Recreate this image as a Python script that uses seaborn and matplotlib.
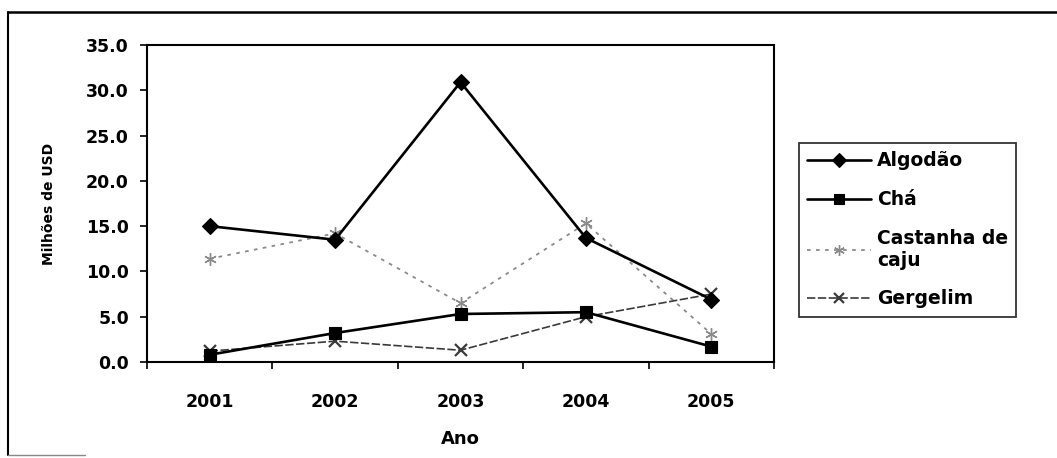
import numpy as np
import pandas as pd
import seaborn as sns
import matplotlib.pyplot as plt
from matplotlib.lines import Line2D

# data (milhoes de USD)
anos = ['2001', '2002', '2003', '2004', '2005']
algodao = [15.0, 13.5, 30.9, 13.7, 6.9]
cha = [0.8, 3.2, 5.3, 5.5, 1.7]
castanha = [11.4, 14.2, 6.5, 15.3, 3.1]
gergelim = [1.2, 2.3, 1.3, 5.0, 7.5]

series_names = ['Algodão', 'Chá', 'Castanha de\ncaju', 'Gergelim']
series_values = [algodao, cha, castanha, gergelim]

sns.set_theme(style='white')
plt.rcParams['font.family'] = ['DejaVu Sans']
plt.rcParams['font.weight'] = 'bold'
plt.rcParams['text.color'] = 'black'
plt.rcParams['axes.labelcolor'] = 'black'
plt.rcParams['xtick.color'] = 'black'
plt.rcParams['ytick.color'] = 'black'

fig = plt.figure(figsize=(10.57, 4.58), dpi=100)
ax = fig.add_axes([147 / 1057, 1 - 362 / 458, (774 - 147) / 1057, (362 - 45) / 458])

styles = [
    dict(color='black', marker='D', markersize=8.5, linewidth=1.9, linestyle='-'),
    dict(color='black', marker='s', markersize=8, linewidth=1.9, linestyle='-'),
    dict(color='#8a8a8a', marker=(6, 2, 0), markersize=9, markeredgewidth=1.0,
         linewidth=1.3, linestyle=(0, (2, 3))),
    dict(color='#3a3a3a', marker='x', markersize=8, markeredgewidth=1.6,
         linewidth=1.2, linestyle=(0, (5, 1.5))),
]

x = np.arange(len(anos))
order = [2, 3, 1, 0]
for i in order:
    df = pd.DataFrame({'x': x, 'y': series_values[i]})
    st = styles[i]
    sns.lineplot(data=df, x='x', y='y', ax=ax, color=st['color'],
                 linewidth=st['linewidth'], linestyle=st['linestyle'],
                 marker=st['marker'], markersize=st['markersize'],
                 markeredgewidth=st.get('markeredgewidth', 0.8),
                 markeredgecolor=st['color'], markerfacecolor=st['color'])

ax.set_xlim(-0.5, len(anos) - 0.5)
ax.set_ylim(0, 35)
ax.set_yticks(np.arange(0, 35.1, 5))
ax.set_yticklabels([f'{v:.1f}' for v in np.arange(0, 35.1, 5)], fontsize=12.5, fontweight='bold')
ax.set_xticks(np.arange(-0.5, len(anos), 1))
ax.set_xticklabels([])
ax.set_xticks(x, minor=True)
ax.set_xticklabels(anos, minor=True, fontsize=12.5, fontweight='bold')
ax.tick_params(axis='x', which='major', direction='out', length=5, width=1.2, color='black', bottom=True)
ax.tick_params(axis='x', which='minor', length=0, pad=22)
ax.tick_params(axis='y', direction='out', length=5, width=1.2, color='black', left=True, pad=8)
for s in ax.spines.values():
    s.set_color('black')
    s.set_linewidth(1.5)
ax.grid(False)

ax.set_xlabel('Ano', fontsize=13, fontweight='bold', labelpad=14)
ax.set_ylabel('Milhões de USD', fontsize=10, fontweight='bold', labelpad=22)

handles = [Line2D([], [], color=st['color'], linewidth=st['linewidth'], linestyle=st['linestyle'],
                  marker=st['marker'], markersize=st['markersize'] * 0.85,
                  markeredgewidth=st.get('markeredgewidth', 0.8),
                  markeredgecolor=st['color'], markerfacecolor=st['color'])
           for st in styles]
leg = fig.legend(handles, series_names, loc='upper left',
                 bbox_to_anchor=(799 / 1057, 1 - 143 / 458),
                 frameon=True, fancybox=False, handlelength=3.4, handletextpad=0.3,
                 labelspacing=1.05, borderpad=0.45, borderaxespad=0,
                 prop={'size': 13.5, 'weight': 'bold'})
leg.get_frame().set_edgecolor('black')
leg.get_frame().set_linewidth(1.3)

# scanned page frame
fig.add_artist(Line2D([8 / 1057, 8 / 1057], [1 - 455 / 458, 1 - 12 / 458],
                      transform=fig.transFigure, color='black', linewidth=1.5))
fig.add_artist(Line2D([8 / 1057, 1.0], [1 - 12 / 458, 1 - 12 / 458],
                      transform=fig.transFigure, color='black', linewidth=1.8))
fig.add_artist(Line2D([8 / 1057, 85 / 1057], [1 - 455 / 458, 1 - 455 / 458],
                      transform=fig.transFigure, color='#888888', linewidth=1.0))

fig.savefig('out.png', dpi=100)
